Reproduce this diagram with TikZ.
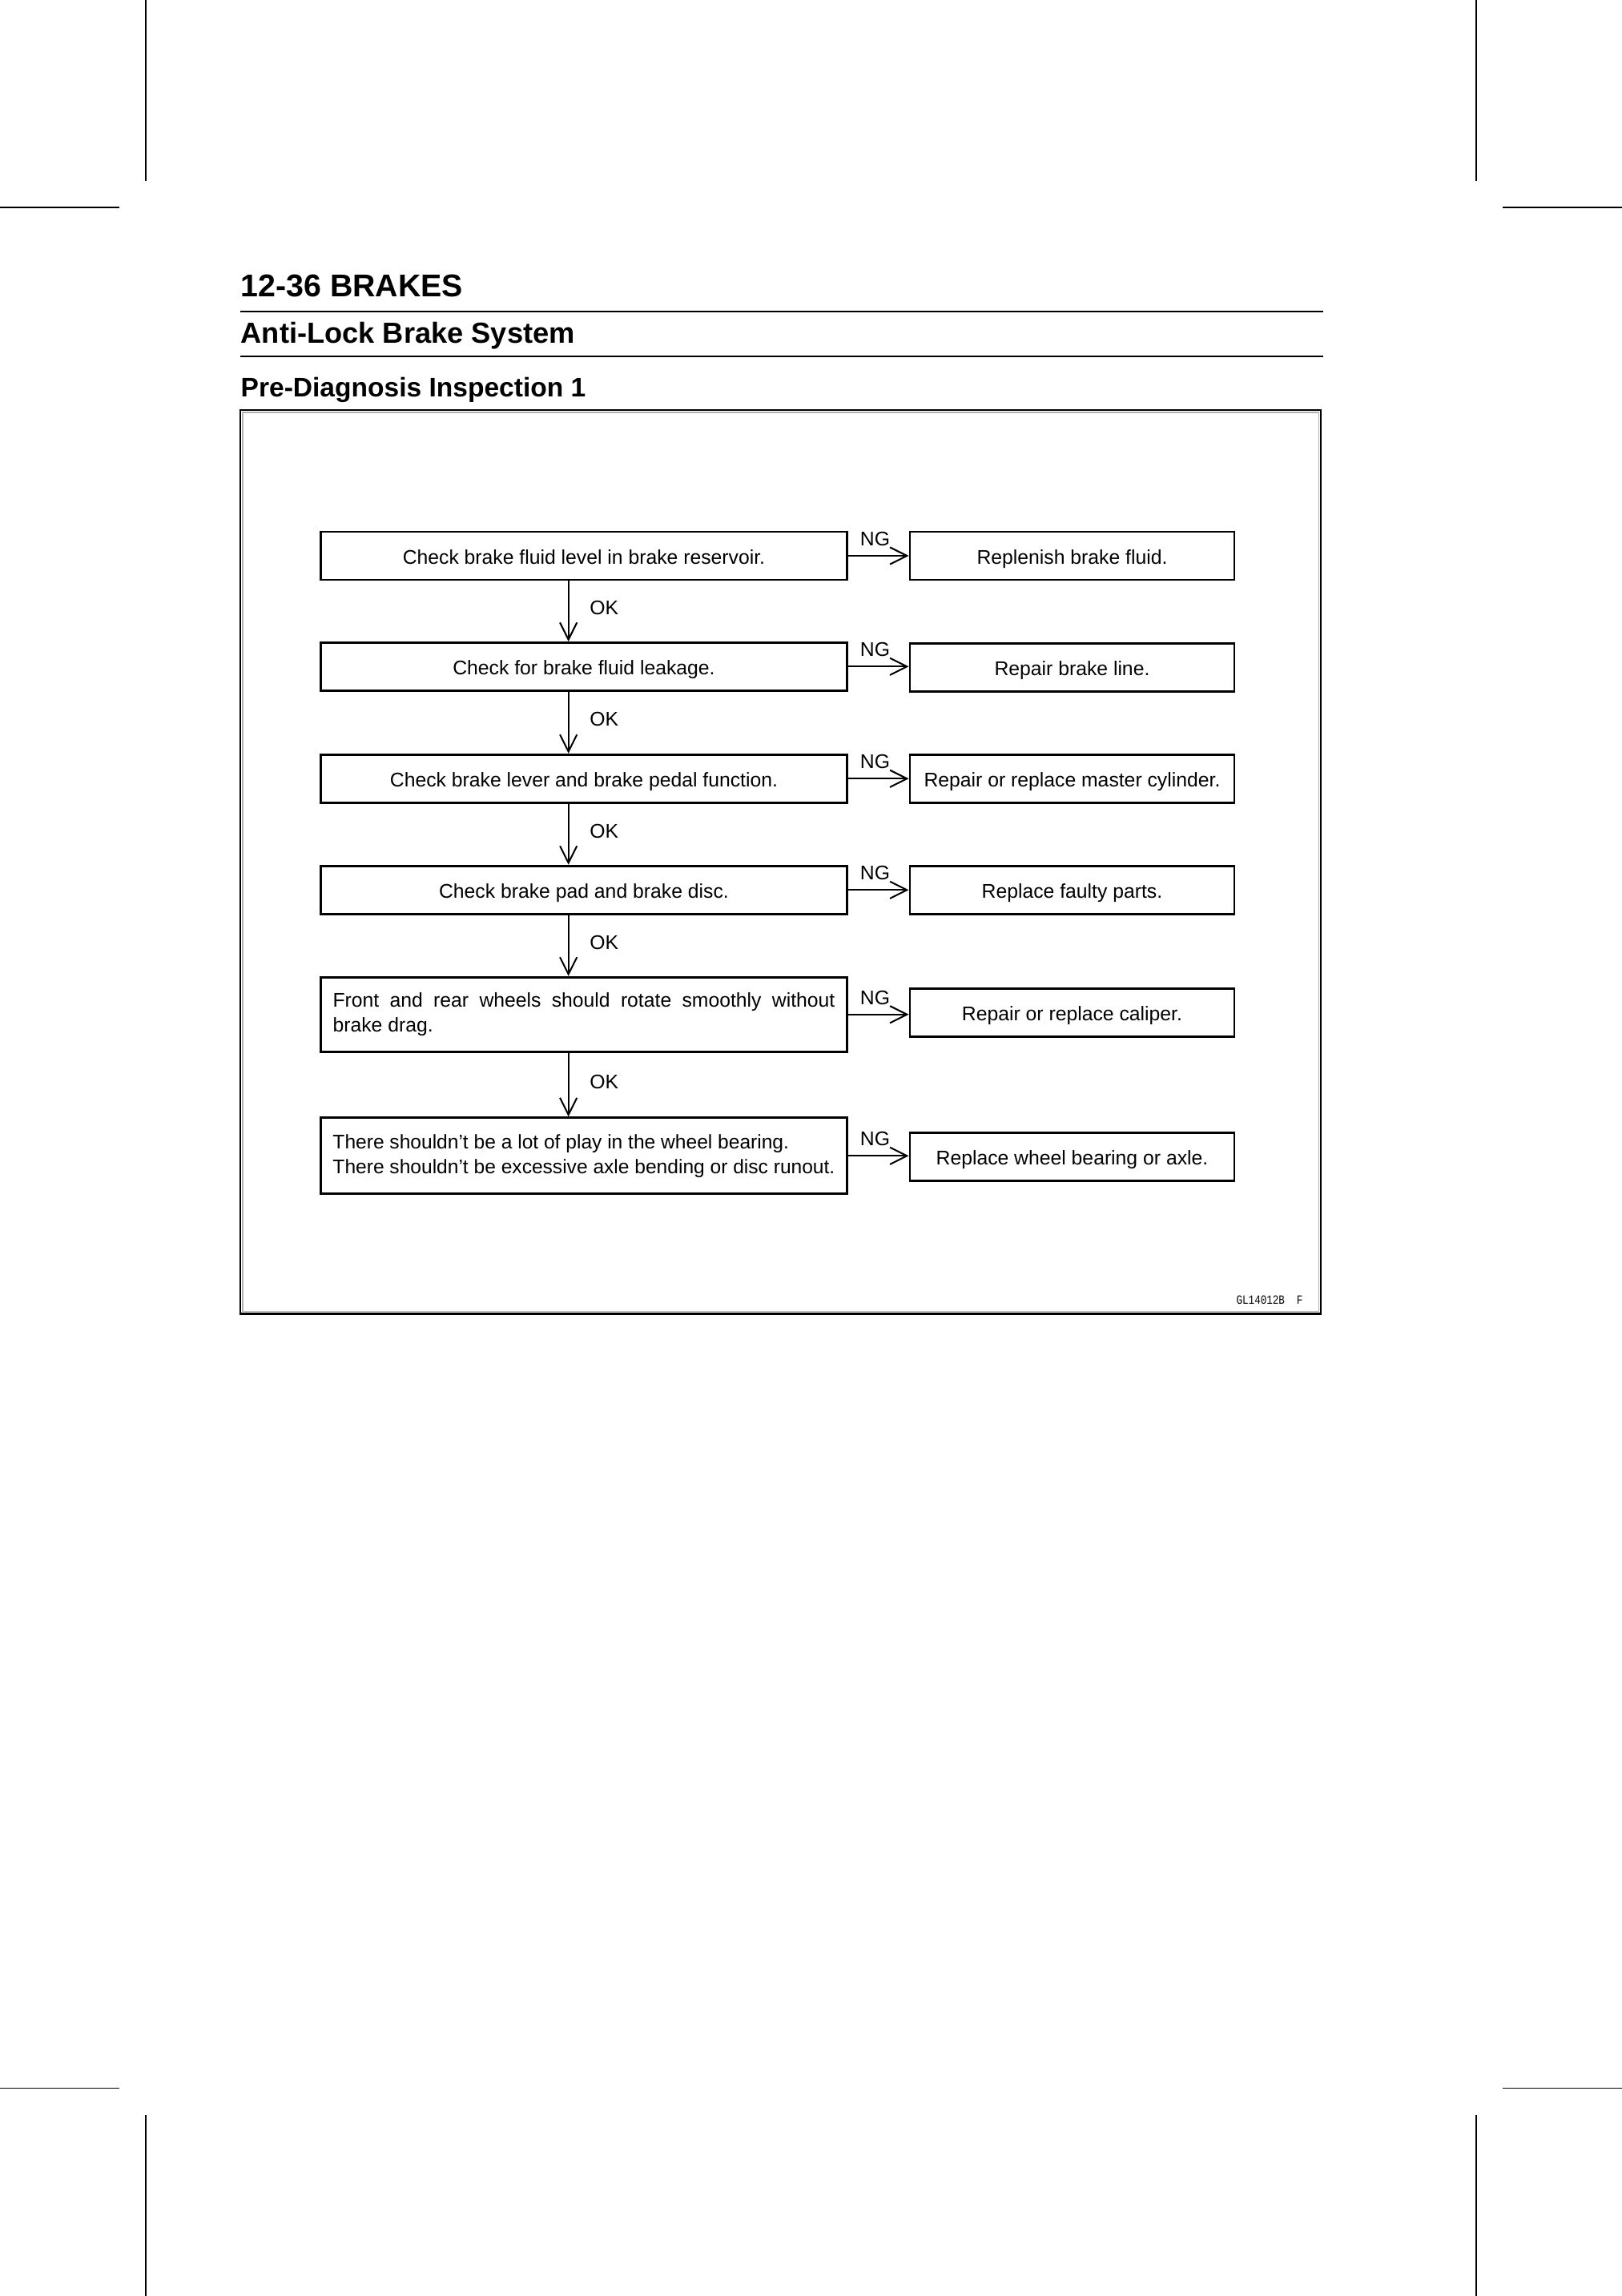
\documentclass[tikz,border=0pt]{standalone}
\usepackage{fontspec}
\usepackage{graphicx}
\setmainfont{Liberation Sans}
\newfontfamily\codefont{Liberation Mono}
\usetikzlibrary{arrows.meta,positioning}

\begin{document}
\begin{tikzpicture}[
    x=0.1897mm, y=-0.1897mm,
    boxbase/.style={draw, line width=0.85pt, rectangle, inner sep=0pt, font=\fontsize{7.3}{9.2}\selectfont},
    check/.style={boxbase, minimum width=68.1mm, minimum height=6.22mm, text height=2.1mm, text depth=0pt},
    longcheck/.style={boxbase, minimum width=68.1mm},
    remedy/.style={check, minimum width=42mm},
    arrow/.style={-{Straight Barb[length=2.2mm, width=2.2mm]}, line width=0.6pt},
    tag/.style={font=\fontsize{7.3}{9.2}\selectfont},
    heading/.style={anchor=base west, inner sep=0pt, font=\bfseries},
    cropmark/.style={line width=0.4pt}
]
\useasboundingbox (0,0) rectangle (1107,1567.3);

% Crop marks
\draw[cropmark] (99.5,0) -- (99.5,123.6);
\draw[cropmark] (0,141.6) -- (81.5,141.6);
\draw[cropmark] (1007.5,0) -- (1007.5,123.6);
\draw[cropmark] (1025.5,141.6) -- (1107,141.6);
\draw[cropmark] (0,1425.5) -- (81.5,1425.5);
\draw[cropmark] (1025.5,1425.5) -- (1107,1425.5);
\draw[cropmark] (99.5,1443.7) -- (99.5,1567.3);
\draw[cropmark] (1007.5,1443.7) -- (1007.5,1567.3);

% Page heading
\node[heading, font=\bfseries\fontsize{11.6}{13}\selectfont] (chapter) at (164,202.5) {12-36 BRAKES};
\draw[line width=0.6pt] (164,212.8) -- (903,212.8);
\node[heading, font=\bfseries\fontsize{10.7}{13}\selectfont] (section) at (164,234) {Anti-Lock Brake System};
\draw[line width=0.6pt] (164,243.5) -- (903,243.5);
\node[heading, font=\bfseries\fontsize{9.9}{12}\selectfont] (title) at (164,271) {Pre-Diagnosis Inspection 1};

% Frame
\draw[line width=0.6pt] (164,280) rectangle (901.5,896.8);
\draw[gray!60, line width=0.4pt] (165.6,281.6) rectangle (899.9,895.2);

% Checks
\node[check] (c1) at (398.5,379.4) {Check brake fluid level in brake reservoir.};
\node[check] (c2) at (398.5,455) {Check for brake fluid leakage.};
\node[check] (c3) at (398.5,531.5) {Check brake lever and brake pedal function.};
\node[check] (c4) at (398.5,607.5) {Check brake pad and brake disc.};
\node[longcheck, minimum height=9.67mm, text width=65mm, align=justify] (c5) at (398.5,692.5)
    {Front and rear wheels should rotate smoothly without\linebreak brake drag.};
\node[longcheck, minimum height=9.86mm, align=left, font=\fontsize{7.25}{9.2}\selectfont] (c6) at (398.5,789)
    {There shouldn’t be a lot of play in the wheel bearing.\\There shouldn’t be excessive axle bending or disc runout.};

% Remedies
\node[remedy] (r1) at (731.7,379.4) {Replenish brake fluid.};
\node[remedy] (r2) at (731.7,455.5) {Repair brake line.};
\node[remedy] (r3) at (731.7,531.5) {Repair or replace master cylinder.};
\node[remedy] (r4) at (731.7,607.5) {Replace faulty parts.};
\node[remedy] (r5) at (731.7,691.3) {Repair or replace caliper.};
\node[remedy] (r6) at (731.7,789.5) {Replace wheel bearing or axle.};

% OK arrows
\foreach \i/\j in {1/2,2/3,3/4,4/5,5/6}
    \draw[arrow] ([xshift=-2mm]c\i.south) -- ([xshift=-2mm]c\j.north)
        node[tag, pos=0.45, right=1.5mm] {OK};

% NG arrows
\foreach \i in {1,...,6}
    \draw[arrow] (c\i.east) -- (c\i.east -| r\i.west)
        node[tag, pos=0, above right, xshift=0.3mm] {NG};

% Figure code
\node[anchor=base east, inner sep=0pt, font=\codefont\fontsize{3.7}{4}\selectfont] (code) at (889.5,890)
    {\scalebox{1}[1.25]{GL14012B\ \ F}};

\end{tikzpicture}
\end{document}
